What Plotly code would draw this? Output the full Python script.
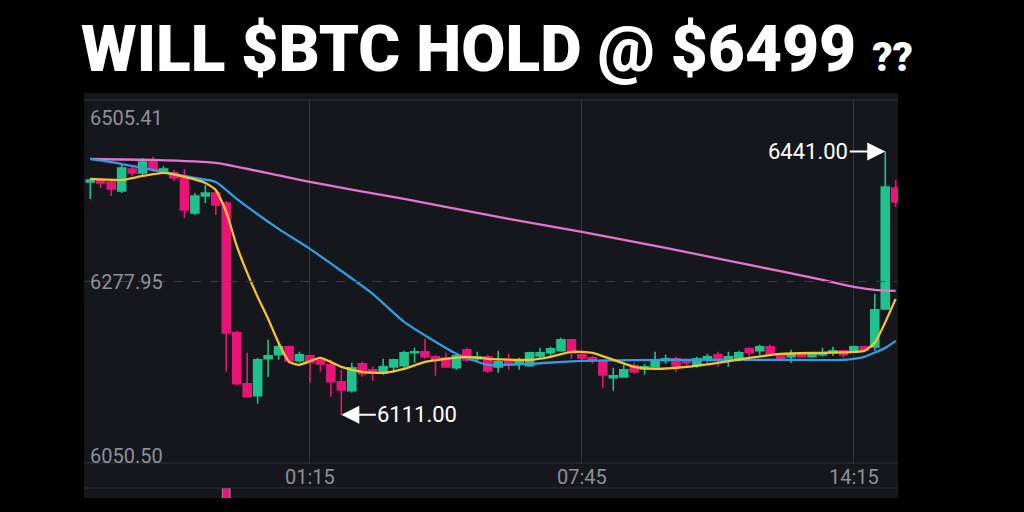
import pandas as pd
import plotly.graph_objects as go

# 15-minute candles, 20:00 -> 15:15 next day
times = pd.date_range("2018-10-14 20:00", periods=78, freq="15min")

opens = [
    6402.7, 6404.0, 6402.7, 6391.4, 6419.0, 6414.0, 6429.0, 6416.5, 6414.0, 6407.7,
    6363.9, 6385.2, 6388.9, 6376.4, 6213.6, 6149.8, 6134.7, 6181.1, 6186.1, 6196.1,
    6178.6, 6184.8, 6178.6, 6173.6, 6152.3, 6141.0, 6174.8, 6167.3, 6163.5, 6171.0,
    6172.3, 6188.6, 6189.8, 6183.6, 6182.3, 6169.8, 6192.3, 6181.1, 6183.6, 6171.0,
    6179.8, 6174.8, 6172.3, 6184.8, 6188.6, 6191.1, 6204.9, 6186.1, 6182.3, 6177.3,
    6157.3, 6158.5, 6172.3, 6168.5, 6171.0, 6178.6, 6181.1, 6178.6, 6172.3, 6181.1,
    6186.1, 6179.8, 6181.1, 6193.6, 6191.1, 6196.1, 6186.1, 6183.6, 6187.3, 6183.6,
    6186.1, 6188.6, 6191.1, 6189.8, 6196.1, 6196.1, 6243.7, 6395.2,
]
highs = [
    6407.7, 6407.7, 6405.2, 6425.2, 6421.5, 6432.8, 6434.0, 6422.7, 6417.7, 6419.0,
    6388.9, 6399.0, 6391.4, 6378.9, 6216.1, 6188.6, 6182.3, 6204.9, 6201.1, 6197.3,
    6189.8, 6186.1, 6183.6, 6179.8, 6167.3, 6176.1, 6177.3, 6171.0, 6181.1, 6181.1,
    6191.1, 6194.8, 6206.1, 6186.1, 6188.6, 6187.3, 6194.8, 6189.8, 6186.1, 6191.1,
    6187.3, 6182.3, 6189.8, 6194.8, 6196.1, 6207.4, 6206.1, 6188.6, 6184.8, 6179.8,
    6169.8, 6173.6, 6176.1, 6174.8, 6189.8, 6186.1, 6183.6, 6181.1, 6183.6, 6187.3,
    6189.8, 6189.8, 6191.1, 6196.1, 6198.6, 6198.6, 6188.6, 6192.3, 6188.6, 6188.6,
    6194.8, 6196.1, 6192.3, 6197.3, 6197.3, 6262.5, 6441.0, 6405.2,
]
lows = [
    6381.4, 6395.2, 6385.2, 6388.9, 6410.2, 6411.5, 6415.2, 6412.7, 6404.0, 6357.6,
    6361.4, 6376.4, 6361.4, 6164.8, 6147.3, 6132.2, 6124.7, 6158.5, 6179.8, 6177.3,
    6176.1, 6151.0, 6164.8, 6133.5, 6111.0, 6138.5, 6158.5, 6153.5, 6161.0, 6163.5,
    6169.8, 6176.1, 6181.1, 6159.8, 6169.8, 6167.3, 6177.3, 6177.3, 6163.5, 6163.5,
    6167.3, 6167.3, 6171.0, 6182.3, 6182.3, 6189.8, 6181.1, 6178.6, 6174.8, 6144.8,
    6141.0, 6157.3, 6162.3, 6161.0, 6169.8, 6174.8, 6164.8, 6169.8, 6169.8, 6176.1,
    6171.0, 6171.0, 6177.3, 6183.6, 6186.1, 6186.1, 6177.3, 6176.1, 6182.3, 6182.3,
    6183.6, 6184.8, 6182.3, 6188.6, 6191.1, 6191.1, 6242.4, 6371.4,
]
closes = [
    6405.2, 6401.5, 6393.9, 6420.2, 6414.0, 6427.8, 6417.7, 6419.0, 6407.7, 6367.6,
    6385.2, 6388.9, 6373.9, 6213.6, 6149.8, 6133.5, 6179.8, 6184.8, 6196.1, 6178.6,
    6186.1, 6176.1, 6174.8, 6152.3, 6142.2, 6169.8, 6162.3, 6163.5, 6171.0, 6179.8,
    6188.6, 6189.8, 6183.6, 6179.8, 6171.0, 6184.8, 6179.8, 6183.6, 6166.0, 6177.3,
    6174.8, 6177.3, 6188.6, 6188.6, 6193.6, 6204.9, 6188.6, 6182.3, 6178.6, 6161.0,
    6159.8, 6167.3, 6164.8, 6171.0, 6178.6, 6181.1, 6172.3, 6176.1, 6181.1, 6183.6,
    6178.6, 6183.6, 6188.6, 6188.6, 6196.1, 6187.3, 6181.1, 6186.1, 6183.6, 6187.3,
    6188.6, 6191.1, 6186.1, 6196.1, 6192.3, 6242.4, 6396.4, 6377.7,
]

# moving average lines at some candles
ma_long_idx = [0, 6, 12, 21, 30, 40, 47, 55, 63, 70, 73, 75, 77]
ma_long = [6431.5, 6430.3, 6426.5, 6402.7, 6381.4, 6356.4, 6340.1, 6320.1,
           6298.8, 6280.0, 6271.2, 6267.5, 6266.2]

ma_mid_idx = [0, 3, 7, 10, 12, 14, 18, 21, 24, 27, 30, 35, 38, 42, 47, 55, 65, 72, 74, 76, 77]
ma_mid = [6431.5, 6425.2, 6415.2, 6407.7, 6402.7, 6381.4, 6343.9, 6318.8, 6291.2,
          6262.5, 6227.4, 6187.3, 6173.6, 6174.8, 6178.6, 6179.8, 6179.8, 6179.8,
          6183.6, 6194.8, 6203.6]

ma_fast_idx = [0, 3, 5, 7, 9, 11, 12, 13, 14, 15, 16, 17, 18, 19, 20, 22, 24, 26, 28, 30,
               32, 34, 36, 38, 42, 44, 46, 48, 50, 52, 54, 57, 60, 63, 66, 70, 73, 74, 75, 77]
ma_fast = [6406.5, 6405.2, 6410.2, 6414.0, 6409.0, 6401.5, 6392.7, 6365.1, 6322.6, 6288.8,
           6258.7, 6231.2, 6201.1, 6177.3, 6173.6, 6182.3, 6171.0, 6164.8, 6163.5, 6168.5,
           6177.3, 6181.1, 6183.6, 6181.1, 6179.8, 6183.6, 6189.8, 6188.6, 6179.8, 6171.0,
           6168.5, 6171.0, 6176.1, 6182.3, 6187.3, 6188.6, 6189.8, 6191.1, 6201.1, 6256.2]

# volume spike peeking in at the bottom
vol_idx = [13]
vol = [2425.0]

price_labels = [6505.41, 6277.95, 6050.50]
tick_times = ["2018-10-15 01:15", "2018-10-15 07:45", "2018-10-15 14:15"]
tick_text = ["01:15", "07:45", "14:15"]
high_mark = (76, 6441.00)
low_mark = (24, 6111.00)

GREEN = "#1fc28c"
PINK = "#ea1479"
PANEL = "#16171d"
LINE = "#30333b"
LABEL = "#8e9199"

fig = go.Figure()
fig.add_trace(go.Candlestick(
    x=times, open=opens, high=highs, low=lows, close=closes,
    increasing=dict(line=dict(color=GREEN, width=1.6), fillcolor=GREEN),
    decreasing=dict(line=dict(color=PINK, width=1.6), fillcolor=PINK),
    whiskerwidth=0, hoverinfo="skip",
))
for idx, vals, col in [(ma_long_idx, ma_long, "#e277cf"),
                       (ma_mid_idx, ma_mid, "#2e9fe0"),
                       (ma_fast_idx, ma_fast, "#f4c331")]:
    fig.add_trace(go.Scatter(
        x=times[idx], y=vals, mode="lines",
        line=dict(color=col, width=2.3, shape="spline", smoothing=0.5),
        hoverinfo="skip",
    ))
fig.add_trace(go.Bar(
    x=times[vol_idx], y=vol, marker_color=PINK, width=11 * 60 * 1000,
    xaxis="x2", yaxis="y2", hoverinfo="skip",
))

annotations = [
    dict(text="WILL $BTC HOLD @ $6499 <span style='font-size:40px'>??</span>",
         xref="paper", yref="paper", x=-0.006, y=1.128, xanchor="left", yanchor="middle",
         showarrow=False,
         font=dict(family="Roboto", size=64, color="white", weight=900)),
]
shifts = [-18, 0, 7]
for v, s in zip(price_labels, shifts):
    annotations.append(dict(
        text=f"{v:.2f}", xref="paper", yref="y", x=0.005, y=v, yshift=s,
        xanchor="left", yanchor="middle", showarrow=False,
        font=dict(family="Roboto", size=20, color=LABEL)))
for (i, v), ax in [(high_mark, -77), (low_mark, 76)]:
    annotations.append(dict(
        text=f"{v:.2f}", x=times[i], y=v, xref="x", yref="y", ax=ax, ay=0,
        showarrow=True, arrowhead=2, arrowsize=1.8, arrowwidth=2,
        arrowcolor="white", standoff=0,
        font=dict(family="Roboto", size=22, color="white")))

shapes = [
    dict(type="rect", xref="paper", yref="paper", x0=0, x1=1, y0=0, y1=1.0176,
         fillcolor=PANEL, line=dict(width=0), layer="below"),
    dict(type="line", xref="paper", yref="paper", x0=0, x1=1, y0=1, y1=1,
         line=dict(color=LINE, width=1.2)),
    dict(type="line", xref="paper", yref="paper", x0=0, x1=1, y0=0.0879, y1=0.0879,
         line=dict(color=LINE, width=1.2)),
    dict(type="line", xref="paper", yref="paper", x0=0, x1=1, y0=0.0251, y1=0.0251,
         line=dict(color=LINE, width=1.2)),
    dict(type="line", xref="paper", yref="y", x0=0, x1=1,
         y0=price_labels[1], y1=price_labels[1],
         line=dict(color="#3a3d46", width=1.2, dash="dash")),
]

fig.update_layout(
    width=1024, height=512,
    margin=dict(l=84, r=126, t=100, b=14),
    paper_bgcolor="black", plot_bgcolor=PANEL,
    showlegend=False, hovermode=False,
    boxgap=0.15, boxgroupgap=0.1,
    annotations=annotations, shapes=shapes,
    xaxis=dict(
        type="date", range=["2018-10-14 19:51", "2018-10-15 15:18:18"],
        rangeslider=dict(visible=False), anchor="y",
        tickvals=tick_times, ticktext=tick_text, ticks="",
        showgrid=True, gridcolor="#33363e", gridwidth=1,
        zeroline=False, showline=False,
        tickfont=dict(family="Roboto", size=20, color=LABEL),
    ),
    yaxis=dict(
        domain=[0.0879, 1], range=[price_labels[2], price_labels[0]],
        showgrid=False, zeroline=False, showticklabels=False,
    ),
    xaxis2=dict(matches="x", anchor="y2", visible=False),
    yaxis2=dict(domain=[0, 0.0251], range=[2330, 2425], visible=False),
)

fig.write_html(
    "out.html",
    config={"displayModeBar": False},
    post_script="document.body.style.margin='0';document.body.style.background='black';",
)
